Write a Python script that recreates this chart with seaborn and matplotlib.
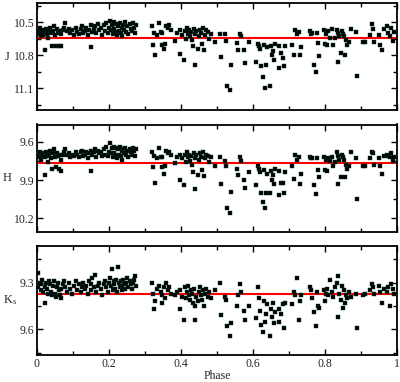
import matplotlib
matplotlib.use("Agg")
import matplotlib.pyplot as plt
from matplotlib.ticker import MultipleLocator
import seaborn as sns
import pandas as pd

# ---- data ----
phase = [
    0.002, 0.004, 0.007, 0.010, 0.012, 0.015, 0.018, 0.021, 0.023, 0.026,
    0.029, 0.031, 0.034, 0.037, 0.040, 0.042, 0.044, 0.047, 0.050, 0.052,
    0.055, 0.058, 0.061, 0.063, 0.066, 0.068, 0.071, 0.074, 0.079, 0.083,
    0.088, 0.093, 0.098, 0.103, 0.108, 0.112, 0.117, 0.121, 0.125, 0.129,
    0.133, 0.137, 0.141, 0.145, 0.149, 0.151, 0.154, 0.158, 0.161, 0.165,
    0.169, 0.173, 0.177, 0.181, 0.185, 0.189, 0.193, 0.196, 0.199, 0.202,
    0.205, 0.208, 0.210, 0.213, 0.215, 0.218, 0.220, 0.222, 0.225, 0.227,
    0.230, 0.232, 0.235, 0.237, 0.240, 0.243, 0.245, 0.248, 0.251, 0.254,
    0.257, 0.260, 0.263, 0.266, 0.269, 0.272, 0.275,
    0.320, 0.322, 0.325, 0.329, 0.333, 0.340, 0.344, 0.346, 0.348, 0.352,
    0.356, 0.358, 0.363, 0.368, 0.372, 0.384, 0.390, 0.396, 0.398, 0.403,
    0.407, 0.410, 0.413, 0.416, 0.419, 0.422, 0.425, 0.428, 0.431, 0.433,
    0.436, 0.439, 0.440, 0.443, 0.446, 0.449, 0.452, 0.455, 0.458, 0.461,
    0.463, 0.466, 0.470, 0.474, 0.478, 0.483, 0.495,
    0.509, 0.510, 0.523, 0.525, 0.527, 0.537, 0.539, 0.556, 0.558, 0.565,
    0.567, 0.576, 0.579, 0.590, 0.608, 0.613, 0.617, 0.620, 0.623, 0.628,
    0.631, 0.634, 0.637, 0.640, 0.646, 0.649, 0.652, 0.655, 0.659, 0.662,
    0.671, 0.673, 0.679, 0.682, 0.685, 0.690, 0.708, 0.713, 0.718, 0.722,
    0.727, 0.730, 0.733, 0.759, 0.762, 0.765, 0.769, 0.776, 0.778, 0.780,
    0.782, 0.796, 0.800, 0.803, 0.806, 0.809, 0.814, 0.820, 0.823, 0.828,
    0.833, 0.836, 0.837, 0.840, 0.844, 0.847, 0.850, 0.852, 0.855, 0.857,
    0.862, 0.866, 0.872, 0.887, 0.889, 0.906, 0.912, 0.926, 0.930, 0.934,
    0.937, 0.949, 0.952, 0.957, 0.965, 0.972, 0.976, 0.980, 0.984, 0.988,
    0.993,
]

j_mag = [
    10.58, 10.61, 10.55, 10.60, 10.63, 10.57, 10.62, 10.59, 10.75, 10.56,
    10.61, 10.64, 10.57, 10.55, 10.60, 10.72, 10.58, 10.54, 10.62, 10.72,
    10.56, 10.60, 10.72, 10.58, 10.61, 10.72, 10.57, 10.55, 10.51, 10.58,
    10.56, 10.60, 10.57, 10.62, 10.55, 10.59, 10.61, 10.56, 10.54, 10.60,
    10.58, 10.55, 10.62, 10.57, 10.53, 10.73, 10.59, 10.56, 10.54, 10.60,
    10.52, 10.57, 10.55, 10.62, 10.53, 10.58, 10.51, 10.60, 10.55, 10.49,
    10.57, 10.53, 10.61, 10.50, 10.56, 10.59, 10.52, 10.62, 10.54, 10.58,
    10.51, 10.60, 10.55, 10.63, 10.53, 10.57, 10.50, 10.59, 10.54, 10.61,
    10.52, 10.56, 10.58, 10.51, 10.55, 10.60, 10.53,
    10.54, 10.71, 10.60, 10.80, 10.62, 10.51, 10.59, 10.60, 10.71, 10.74,
    10.70, 10.54, 10.55, 10.53, 10.57, 10.67, 10.60, 10.79, 10.57, 10.62,
    10.84, 10.58, 10.65, 10.55, 10.61, 10.57, 10.63, 10.59, 10.66, 10.72,
    10.56, 10.61, 10.89, 10.58, 10.74, 10.63, 10.57, 10.60, 10.70, 10.55,
    10.75, 10.62, 10.57, 10.59, 10.65, 10.61, 10.68,
    10.61, 10.82, 10.61, 10.67, 11.08, 11.12, 10.89, 10.69, 10.75, 10.61,
    10.63, 10.75, 10.87, 10.68, 10.86, 10.70, 10.72, 10.74, 10.90, 11.00,
    10.71, 11.10, 10.89, 10.73, 11.08, 10.72, 10.80, 10.76, 10.84, 10.70,
    10.72, 10.92, 10.78, 10.83, 10.90, 10.72, 10.71, 10.80, 10.57, 10.61,
    10.59, 10.80, 10.73, 10.58, 10.61, 10.60, 10.89, 10.95, 10.60, 10.69,
    10.81, 10.57, 10.70, 10.61, 10.71, 10.58, 10.64, 10.56, 10.71, 10.64,
    10.57, 10.86, 10.60, 10.63, 10.78, 10.58, 10.61, 10.63, 10.80, 10.66,
    10.71, 10.68, 10.56, 10.59, 10.99, 10.68, 10.68, 10.62, 10.52, 10.56,
    10.68, 10.62, 10.71, 10.75, 10.56, 10.54, 10.60, 10.63, 10.55, 10.67,
    10.59,
]

h_mag = [
    9.70, 9.72, 9.68, 9.71, 9.74, 9.69, 9.70, 9.72, 9.86, 9.68,
    9.71, 9.76, 9.70, 9.67, 9.73, 9.81, 9.69, 9.66, 9.72, 9.80,
    9.69, 9.71, 9.81, 9.70, 9.74, 9.83, 9.70, 9.68, 9.66, 9.70,
    9.69, 9.72, 9.70, 9.71, 9.68, 9.70, 9.72, 9.68, 9.67, 9.71,
    9.70, 9.68, 9.73, 9.69, 9.67, 9.83, 9.70, 9.68, 9.66, 9.72,
    9.67, 9.69, 9.68, 9.71, 9.66, 9.70, 9.64, 9.71, 9.68, 9.61,
    9.69, 9.65, 9.72, 9.64, 9.69, 9.70, 9.65, 9.73, 9.66, 9.70,
    9.64, 9.71, 9.67, 9.74, 9.66, 9.69, 9.65, 9.70, 9.67, 9.72,
    9.66, 9.68, 9.70, 9.65, 9.67, 9.71, 9.66,
    9.68, 9.80, 9.71, 9.92, 9.73, 9.65, 9.72, 9.72, 9.80, 9.85,
    9.79, 9.67, 9.69, 9.68, 9.70, 9.77, 9.72, 9.90, 9.70, 9.73,
    9.94, 9.70, 9.76, 9.68, 9.72, 9.70, 9.75, 9.71, 9.78, 9.84,
    9.69, 9.73, 9.97, 9.70, 9.86, 9.74, 9.69, 9.72, 9.82, 9.68,
    9.87, 9.73, 9.70, 9.71, 9.76, 9.72, 9.79,
    9.72, 9.93, 9.75, 9.79, 10.12, 10.16, 9.99, 9.81, 9.86, 9.72,
    9.75, 9.90, 9.96, 9.84, 9.94, 9.79, 9.81, 9.84, 10.00, 10.07,
    9.82, 10.12, 10.00, 9.85, 10.00, 9.83, 9.90, 9.86, 9.93, 9.81,
    9.83, 10.02, 9.92, 9.92, 10.00, 9.84, 9.79, 9.89, 9.70, 9.74,
    9.72, 9.93, 9.85, 9.72, 9.73, 9.73, 9.94, 10.01, 9.73, 9.82,
    9.88, 9.72, 9.82, 9.74, 9.83, 9.73, 9.75, 9.72, 9.79, 9.76,
    9.68, 9.93, 9.71, 9.74, 9.88, 9.70, 9.72, 9.74, 9.88, 9.78,
    9.81, 9.79, 9.68, 9.73, 10.05, 9.79, 9.79, 9.73, 9.68, 9.69,
    9.78, 9.73, 9.79, 9.85, 9.71, 9.70, 9.71, 9.72, 9.69, 9.75,
    9.72,
]

k_mag = [
    9.24, 9.33, 9.30, 9.35, 9.31, 9.28, 9.36, 9.33, 9.43, 9.30,
    9.34, 9.37, 9.29, 9.31, 9.36, 9.38, 9.32, 9.29, 9.37, 9.39,
    9.33, 9.30, 9.35, 9.38, 9.34, 9.40, 9.31, 9.29, 9.33, 9.36,
    9.30, 9.34, 9.37, 9.32, 9.29, 9.35, 9.31, 9.36, 9.33, 9.30,
    9.34, 9.32, 9.37, 9.29, 9.31, 9.35, 9.27, 9.33, 9.25, 9.36,
    9.32, 9.30, 9.34, 9.38, 9.31, 9.29, 9.33, 9.36, 9.30, 9.27,
    9.32, 9.21, 9.35, 9.29, 9.31, 9.34, 9.28, 9.36, 9.20, 9.30,
    9.33, 9.29, 9.32, 9.35, 9.28, 9.31, 9.34, 9.30, 9.27, 9.33,
    9.29, 9.31, 9.34, 9.30, 9.28, 9.26, 9.32,
    9.30, 9.37, 9.47, 9.42, 9.34, 9.32, 9.36, 9.43, 9.38, 9.33,
    9.40, 9.30, 9.35, 9.33, 9.37, 9.38, 9.36, 9.47, 9.35, 9.39,
    9.54, 9.33, 9.40, 9.36, 9.32, 9.38, 9.41, 9.35, 9.37, 9.43,
    9.34, 9.54, 9.45, 9.39, 9.42, 9.36, 9.33, 9.38, 9.41, 9.35,
    9.45, 9.37, 9.34, 9.39, 9.36, 9.40, 9.35,
    9.30, 9.51, 9.39, 9.41, 9.58, 9.64, 9.56, 9.45, 9.38, 9.31,
    9.36, 9.48, 9.54, 9.45, 9.53, 9.33, 9.40, 9.48, 9.57, 9.62,
    9.42, 9.55, 9.50, 9.44, 9.64, 9.47, 9.52, 9.43, 9.56, 9.49,
    9.47, 9.55, 9.50, 9.44, 9.59, 9.43, 9.44, 9.36, 9.38, 9.27,
    9.54, 9.42, 9.38, 9.33, 9.35, 9.40, 9.49, 9.58, 9.36, 9.45,
    9.46, 9.35, 9.42, 9.37, 9.34, 9.38, 9.28, 9.36, 9.39, 9.33,
    9.30, 9.26, 9.52, 9.37, 9.41, 9.32, 9.46, 9.35, 9.43, 9.38,
    9.40, 9.36, 9.39, 9.37, 9.59, 9.38, 9.37, 9.35, 9.31, 9.33,
    9.37, 9.32, 9.36, 9.43, 9.34, 9.36, 9.33, 9.45, 9.31, 9.34,
    9.37,
]

band_labels = ["J", "H", r"K$_\mathrm{s}$"]
mean_mag = [10.64, 9.764, 9.373]
y_limits = [(11.297, 10.327), (10.307, 9.465), (9.765, 9.064)]
major_ticks = [[10.5, 10.8, 11.1], [9.6, 9.9, 10.2], [9.3, 9.6]]
x_ticks = [0, 0.2, 0.4, 0.6, 0.8, 1]
x_tick_labels = ["0", "0.2", "0.4", "0.6", "0.8", "1"]

df = pd.DataFrame({"phase": phase, "J": j_mag, "H": h_mag, "K": k_mag})

# ---- styling ----
sns.set_style("ticks")
plt.rcParams["font.family"] = ["Liberation Serif", "DejaVu Serif"]
plt.rcParams["mathtext.fontset"] = "custom"
plt.rcParams["mathtext.rm"] = "Liberation Serif"
plt.rcParams["mathtext.it"] = "Liberation Serif:italic"

fig = plt.figure(figsize=(4.0, 3.82), dpi=100)
left, width = 37 / 400, 360 / 400
panel_px = [(3, 110), (124.5, 232), (246, 355)]
cols = ["J", "H", "K"]

for i, (top, bot) in enumerate(panel_px):
    ax = fig.add_axes([left, 1 - bot / 382, width, (bot - top) / 382])
    sns.scatterplot(data=df, x="phase", y=cols[i], ax=ax, marker="s", s=6,
                    color="black", edgecolor="#0b3d30", linewidth=0.3,
                    legend=False, zorder=3)
    ax.axhline(mean_mag[i], color="#ff0000", lw=1.5, zorder=2)
    ax.set_xlim(0, 1)
    ax.set_ylim(*y_limits[i])
    ax.set_yticks(major_ticks[i])
    ax.set_yticklabels([f"{v:.1f}" for v in major_ticks[i]], fontsize=8.5)
    ax.yaxis.set_minor_locator(MultipleLocator(0.15))
    ax.set_xticks(x_ticks)
    ax.xaxis.set_minor_locator(MultipleLocator(0.1))
    ax.tick_params(which="both", direction="in", top=True, right=True,
                   width=1.0, color="black")
    ax.tick_params(which="major", length=4, pad=2)
    ax.tick_params(which="minor", length=3)
    for sp in ax.spines.values():
        sp.set_linewidth(1.3)
        sp.set_color("black")
    ax.set_ylabel(band_labels[i], rotation=0, fontsize=9, ha="center", va="center")
    ax.yaxis.set_label_coords(-0.083 if i < 2 else -0.075, 0.5)
    if i < 2:
        ax.set_xticklabels([])
        ax.set_xlabel("")
    else:
        ax.set_xticklabels(x_tick_labels, fontsize=8.5)
        ax.set_xlabel("Phase", fontsize=8.5, labelpad=0)

fig.savefig("out.png", dpi=100)
